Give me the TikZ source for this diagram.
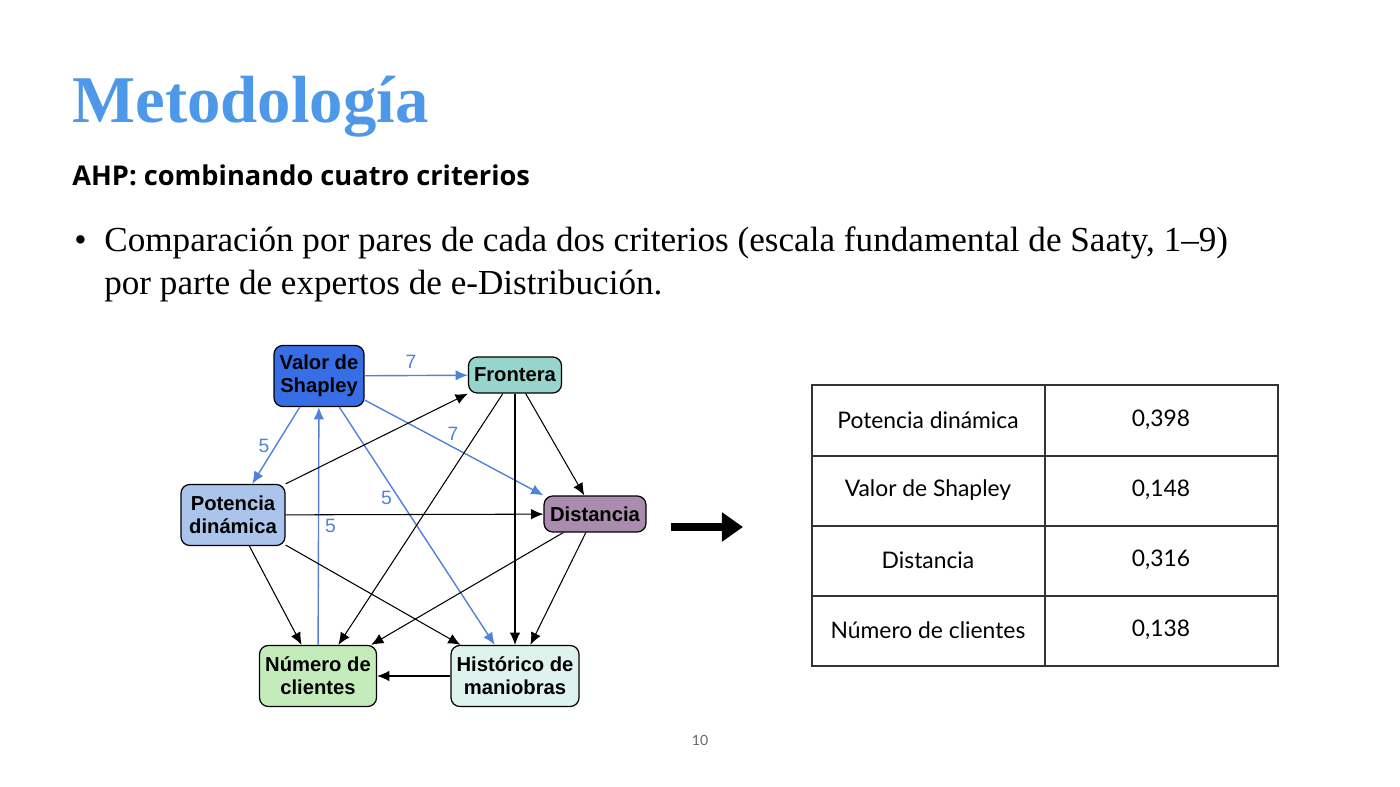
\documentclass[tikz,border=0pt]{standalone}
\usepackage{fontspec}
\setmainfont{Liberation Serif}
\newfontfamily\nodefont{Liberation Sans}
\newfontfamily\tabfont{Lato}
\newfontfamily\subfont{Open Sans}
\usetikzlibrary{arrows.meta,calc}
\definecolor{ctitle}{RGB}{77,152,232}
\definecolor{cblue}{RGB}{80,130,220}
\definecolor{cvs}{RGB}{55,110,230}
\definecolor{cfr}{RGB}{150,212,204}
\definecolor{cpd}{RGB}{170,196,236}
\definecolor{cdi}{RGB}{170,140,175}
\definecolor{cnc}{RGB}{196,236,186}
\definecolor{chm}{RGB}{222,242,238}

\begin{document}
\begin{tikzpicture}[
        x={(0.02cm,0cm)}, y={(0cm,-0.02cm)},
        crit/.style={shape=rectangle, rounded corners=5pt, draw=black, line width=0.7pt,
          font=\nodefont\bfseries\fontsize{11.5}{13}\selectfont, align=center, inner sep=0pt},
        link/.style={-{Latex[length=7pt,width=6pt]}, line width=0.6pt, black},
        wlink/.style={-{Latex[length=7pt,width=6pt]}, line width=0.8pt, cblue},
        w/.style={text=cblue, font=\nodefont\fontsize{11}{12}\selectfont},
        cell/.style={font=\tabfont\fontsize{13}{15}\selectfont},
        body/.style={anchor=base west, inner sep=0pt, font=\fontsize{20}{24}\selectfont},
        ]
        \useasboundingbox (0,0) rectangle (1400,787);
        % title and text
        \node(title)[anchor=base west, inner sep=0pt, text=ctitle, font=\fontsize{38}{44}\selectfont\bfseries] at (72,123) {Metodología};
        \node(sub)[anchor=base west, inner sep=0pt, font=\subfont\bfseries\fontsize{15.5}{18}\selectfont] at (72,186) {AHP: combinando cuatro criterios};
        \node(bul)[body] at (74,252) {•};
        \node(txt1)[body] at (104,252) {Comparación por pares de cada dos criterios (escala fundamental de Saaty, 1–9)};
        \node(txt2)[body] at (104,295) {por parte de expertos de e-Distribución.};
        % criteria
        \node(vs)[crit, fill=cvs, minimum width=1.8cm, minimum height=1.22cm] at (319,376) {Valor de\\Shapley};
        \node(fr)[crit, fill=cfr, minimum width=1.86cm, minimum height=0.72cm] at (515,375) {Frontera};
        \node(pd)[crit, fill=cpd, minimum width=2.08cm, minimum height=1.22cm] at (233,515) {Potencia\\dinámica};
        \node(di)[crit, fill=cdi, minimum width=2.04cm, minimum height=0.72cm] at (595,514) {Distancia};
        \node(nc)[crit, fill=cnc, minimum width=2.34cm, minimum height=1.22cm] at (318,676) {Número de\\clientes};
        \node(hm)[crit, fill=chm, minimum width=2.56cm, minimum height=1.22cm] at (515,676) {Histórico de\\maniobras};
        % weighted comparisons
        \draw[wlink](vs) -- node[w, above, pos=0.45]{7} (fr);
        \draw[wlink](vs) -- node[w, left, pos=0.5]{5} (pd);
        \draw[wlink](vs.east |- 0,400) -- node[w, above right, pos=0.45, inner sep=1pt]{7} (di.north west);
        \draw[wlink](vs) -- node[w, left, pos=0.38]{5} (hm);
        \draw[wlink](nc) -- node[w, right, pos=0.5]{5} (vs);
        % other comparisons
        \draw[link](pd.north east) -- (fr.south west);
        \draw[link](pd) -- (di);
        \draw[link](pd) -- (nc);
        \draw[link](pd) -- (hm);
        \draw[link](fr) -- (nc);
        \draw[link](fr) -- (hm);
        \draw[link](fr) -- (di);
        \draw[link](di) -- (nc);
        \draw[link](di) -- (hm);
        \draw[link](hm) -- (nc);
        % result
        \coordinate(a1) at (671,527);
        \coordinate(a2) at (743,527);
        \draw[line width=4pt, -{Triangle[length=12pt,width=16pt]}](a1) -- (a2);
        \draw[line width=0.6pt, black!80] (812,385) rectangle (1278,666);
        \foreach \r in {456,526,596} \draw[line width=0.6pt, black!80] (812,\r) -- (1278,\r);
        \draw[line width=0.6pt, black!80] (1045,385) -- (1045,666);
        \foreach \n/\v [count=\k from 0] in {Potencia dinámica/0{,}398, Valor de Shapley/0{,}148, Distancia/0{,}316, Número de clientes/0{,}138}{
          \node(k\k)[cell] at (928,420+70*\k) {\n};
          \node(v\k)[cell] at (1161,420+70*\k) {\v};
        }
        \node(page)[text=black!60, font=\tabfont\fontsize{8}{9}\selectfont] at (700,740) {10};
\end{tikzpicture}
\end{document}
